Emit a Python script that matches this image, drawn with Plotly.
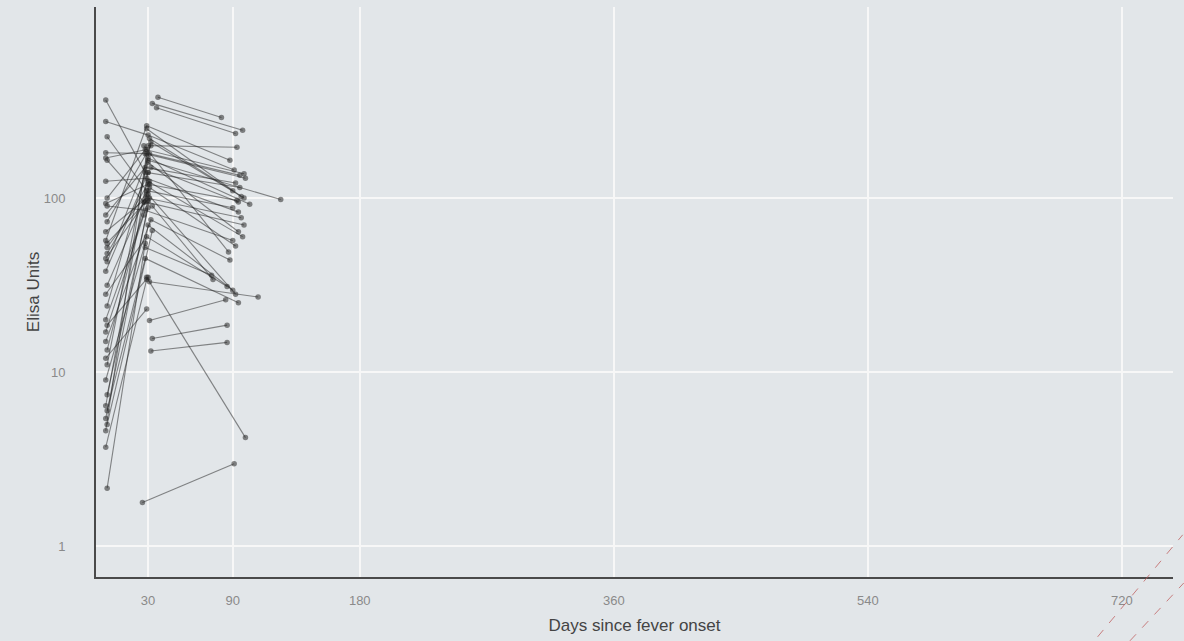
import plotly.graph_objects as go

# Flat data: one row per sample (subject id, day since fever onset, ELISA units)
subject = [
    1, 1, 2, 2, 2, 3, 3, 4, 4, 4, 5, 5, 6, 6, 6, 7, 7, 7, 8, 8, 8, 9, 9, 9,
    10, 10, 10, 11, 11, 12, 12, 12, 13, 13, 13, 14, 14, 14, 15, 15, 15,
    16, 16, 16, 17, 17, 17, 18, 18, 19, 19, 19, 20, 20, 20, 21, 21, 22, 22,
    23, 23, 23, 24, 24, 25, 25, 26, 26, 26, 27, 27, 28, 28, 29, 29,
    30, 30, 30, 31, 31, 32, 32, 33, 33, 34, 34, 35, 35, 35,
    36, 36, 37, 37, 38, 38, 39, 39, 40, 40, 41, 41, 42, 42, 43, 43,
    44, 44, 45, 45, 46, 46, 47, 47, 48, 48, 49, 49, 50, 50, 51, 51,
    52, 52, 53, 53, 54, 54, 55, 55, 56, 56, 57, 57, 58, 58, 59, 59, 60, 60,
]
day = [
    0, 28, 0, 30, 91, 1, 29, 0, 31, 95, 1, 27, 0, 29, 94, 1, 28, 98, 0, 30, 93, 1, 28, 90,
    0, 28, 92, 1, 32, 0, 29, 96, 0, 29, 88, 1, 30, 90, 0, 28, 98,
    1, 30, 102, 0, 30, 95, 1, 29, 0, 29, 86, 1, 30, 94, 0, 30, 1, 30,
    0, 32, 88, 1, 31, 0, 29, 1, 32, 98, 0, 28, 1, 30, 0, 30,
    1, 28, 94, 0, 31, 1, 33, 0, 29, 0, 29, 1, 30, 90,
    37, 82, 33, 97, 36, 92, 30, 93, 30, 124, 31, 92, 27, 87, 28, 75,
    33, 76, 31, 108, 30, 92, 31, 85, 33, 86, 32, 86, 29, 99, 26, 91,
    29, 96, 31, 90, 30, 97, 28, 99, 32, 94, 0, 29, 1, 31, 0, 27, 1, 30,
]
elisa = [
    366, 140, 275, 230, 145, 225, 110, 182, 180, 135, 165, 95, 125, 130, 83, 100, 190, 138, 93, 120, 97, 90, 85, 57,
    80, 150, 122, 73, 200, 64, 100, 77, 57, 260, 165, 52, 110, 88, 45, 95, 70,
    43, 170, 92, 38, 140, 115, 31.5, 105, 28, 60, 31, 24, 160, 64, 20, 95, 18.6, 35,
    15, 75, 44, 13.4, 120, 12, 23, 11, 210, 100, 9, 55, 7.4, 88, 6.4, 140,
    6, 45, 25, 5.4, 100, 5, 65, 4.6, 180, 3.7, 34, 2.15, 70, 29.5,
    380, 290, 350, 245, 330, 235, 200, 196, 165, 98, 115, 53, 200, 49, 52, 36,
    90, 34, 33, 27, 105, 28, 19.8, 26, 15.6, 18.6, 13.2, 14.8, 35, 4.2, 1.78, 2.97,
    250, 102, 220, 110, 125, 60, 180, 130, 150, 95, 170, 190, 48, 125, 17, 80, 55, 98,
]

x_ticks = [30, 90, 180, 360, 540, 720]
y_ticks = [1, 10, 100]
y_ticktext = ["1", "10", "100"]

fig = go.Figure()
for sid in sorted(set(subject)):
    idx = [i for i, s in enumerate(subject) if s == sid]
    fig.add_trace(go.Scatter(
        x=[day[i] for i in idx],
        y=[elisa[i] for i in idx],
        mode="lines+markers",
        line=dict(color="rgba(30,30,30,0.5)", width=1.1),
        marker=dict(color="rgba(40,40,40,0.55)", size=5.5),
        showlegend=False,
        hoverinfo="x+y",
    ))

bg = "#e2e6e9"
fig.update_layout(
    width=1184, height=641,
    paper_bgcolor=bg, plot_bgcolor=bg,
    margin=dict(l=96, r=11, t=7, b=64, autoexpand=False),
    font=dict(family="Liberation Sans, Arial, sans-serif"),
    showlegend=False,
    shapes=[
        dict(type="line", xref="paper", yref="paper", x0=0.930, y0=-0.105, x1=1.009, y1=0.074,
             line=dict(color="rgba(190,90,90,0.75)", width=1, dash="dash")),
        dict(type="line", xref="paper", yref="paper", x0=0.960, y0=-0.112, x1=1.010, y1=-0.0105,
             line=dict(color="rgba(190,90,90,0.75)", width=1, dash="dash")),
    ],
)
fig.update_xaxes(
    range=[-6.9, 756.3],
    tickvals=x_ticks,
    showgrid=True, gridcolor="#f7f7f7", gridwidth=2,
    zeroline=False,
    showline=True, linecolor="#4a4a4a", linewidth=2,
    ticks="", ticklabelstandoff=10,
    tickfont=dict(size=13, color="#8a8a8a"),
    title=dict(text="Days since fever onset", font=dict(size=17, color="#444444"), standoff=13),
)
fig.update_yaxes(
    type="log",
    range=[-0.178, 3.098],
    tickvals=y_ticks, ticktext=y_ticktext,
    showgrid=True, gridcolor="#f7f7f7", gridwidth=2,
    zeroline=False,
    showline=True, linecolor="#4a4a4a", linewidth=2,
    ticks="", ticklabelstandoff=26,
    tickfont=dict(size=13, color="#8a8a8a"),
    title=dict(text="Elisa Units", font=dict(size=17, color="#444444"), standoff=0),
)

page_css = (
    "document.documentElement.style.background='%s';"
    "document.body.style.margin='0';"
    "document.body.style.background='%s';" % (bg, bg)
)
fig.write_html("out.html", post_script=page_css, config={"displayModeBar": False})
